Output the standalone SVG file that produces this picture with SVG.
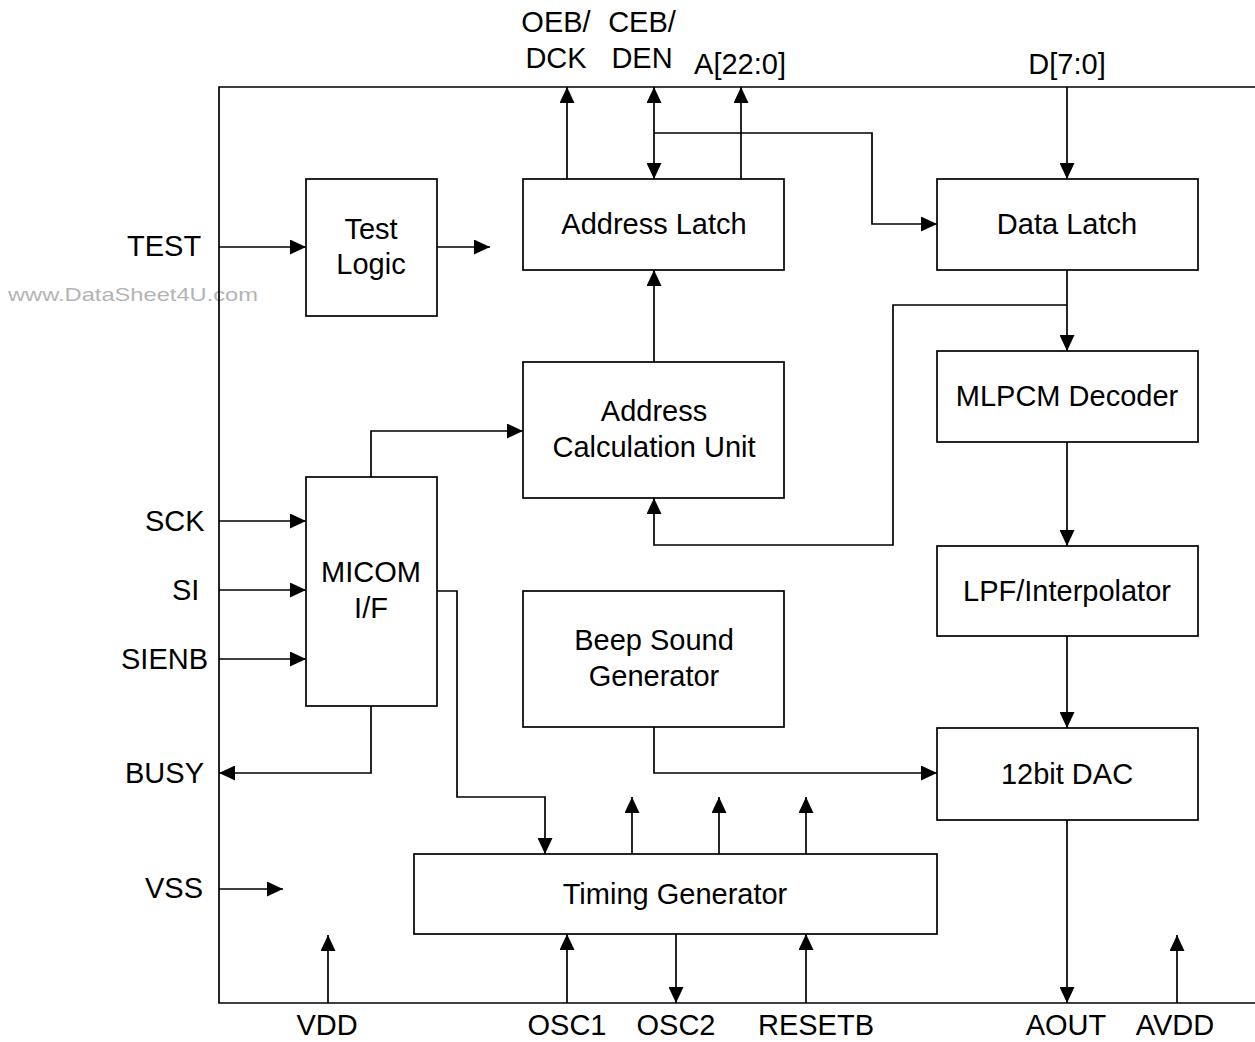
<svg xmlns="http://www.w3.org/2000/svg" width="1255" height="1042" viewBox="0 0 1255 1042">
<defs>
<marker id="ah" markerUnits="userSpaceOnUse" markerWidth="16" markerHeight="15" refX="16" refY="7.5" orient="auto-start-reverse">
<path d="M0,0 L16,7.5 L0,15 z" fill="#000"/>
</marker>
<style>
.box{fill:#fff;stroke:#000;stroke-width:1.7}
.ln{fill:none;stroke:#000;stroke-width:1.7}
.ar{fill:none;stroke:#000;stroke-width:1.7;marker-end:url(#ah)}
text{font-family:"Liberation Sans",Arial,sans-serif;font-size:29px;fill:#000}
.c{text-anchor:middle}
.wm{font-family:"Liberation Sans",Arial,sans-serif;font-size:19px;fill:#b4b4b4}
</style>
</defs>
<rect width="1255" height="1042" fill="#fff"/>
<text class="wm" x="8" y="301" textLength="250" lengthAdjust="spacingAndGlyphs">www.DataSheet4U.com</text>
<g id="frame">
<path class="ln" d="M1255,87 H219 V1003 H1255"/>
</g>
<g id="connectors">
<path class="ar" d="M219,247 H306"/>
<path class="ar" d="M437,247 H490"/>
<path class="ar" d="M567,179 V87"/>
<path class="ar" d="M654,87 V179" style="marker-start:url(#ah)"/>
<path class="ar" d="M741,179 V87"/>
<path class="ar" d="M654,133 H872 V224 H937"/>
<path class="ar" d="M1067,87 V179"/>
<path class="ar" d="M1067,270 V351"/>
<path class="ar" d="M1067,305 H893 V545 H654 V498"/>
<path class="ar" d="M654,362 V270"/>
<path class="ar" d="M371,477 V431 H523"/>
<path class="ar" d="M219,521 H306"/>
<path class="ar" d="M219,590 H306"/>
<path class="ar" d="M219,659 H306"/>
<path class="ar" d="M371,706 V773 H219"/>
<path class="ar" d="M437,591 H457 V797 H545 V854"/>
<path class="ar" d="M632,854 V797"/>
<path class="ar" d="M719,854 V797"/>
<path class="ar" d="M806,854 V797"/>
<path class="ar" d="M1067,442 V546"/>
<path class="ar" d="M1067,636 V728"/>
<path class="ar" d="M654,727 V773 H937"/>
<path class="ar" d="M1067,820 V1003"/>
<path class="ar" d="M219,889 H283"/>
<path class="ar" d="M328,1003 V935"/>
<path class="ar" d="M567,1003 V934"/>
<path class="ar" d="M676,934 V1003"/>
<path class="ar" d="M806,1003 V934"/>
<path class="ar" d="M1177,1003 V935"/>
</g>
<g id="test-logic">
<rect class="box" x="306" y="179" width="131" height="137"/>
<text class="c" x="371" y="239">Test</text>
<text class="c" x="371" y="274">Logic</text>
</g>
<g id="address-latch">
<rect class="box" x="523" y="179" width="261" height="91"/>
<text class="c" x="654" y="234">Address Latch</text>
</g>
<g id="data-latch">
<rect class="box" x="937" y="179" width="261" height="91"/>
<text class="c" x="1067" y="234">Data Latch</text>
</g>
<g id="address-calc">
<rect class="box" x="523" y="362" width="261" height="136"/>
<text class="c" x="654" y="421">Address</text>
<text class="c" x="654" y="457">Calculation Unit</text>
</g>
<g id="mlpcm">
<rect class="box" x="937" y="351" width="261" height="91"/>
<text class="c" x="1067" y="406">MLPCM Decoder</text>
</g>
<g id="micom">
<rect class="box" x="306" y="477" width="131" height="229"/>
<text class="c" x="371" y="582">MICOM</text>
<text class="c" x="371" y="618">I/F</text>
</g>
<g id="beep">
<rect class="box" x="523" y="591" width="261" height="136"/>
<text class="c" x="654" y="650">Beep Sound</text>
<text class="c" x="654" y="686">Generator</text>
</g>
<g id="lpf">
<rect class="box" x="937" y="546" width="261" height="90"/>
<text class="c" x="1067" y="601">LPF/Interpolator</text>
</g>
<g id="dac">
<rect class="box" x="937" y="728" width="261" height="92"/>
<text class="c" x="1067" y="784">12bit DAC</text>
</g>
<g id="timing">
<rect class="box" x="414" y="854" width="523" height="80"/>
<text class="c" x="675" y="904">Timing Generator</text>
</g>
<g id="pins">
<text class="c" x="556" y="32">OEB/</text>
<text class="c" x="556" y="68">DCK</text>
<text class="c" x="642" y="32">CEB/</text>
<text class="c" x="642" y="68">DEN</text>
<text class="c" x="740" y="74">A[22:0]</text>
<text class="c" x="1067" y="74">D[7:0]</text>
<text x="127" y="256">TEST</text>
<text x="145" y="531">SCK</text>
<text x="172" y="600">SI</text>
<text x="121" y="669">SIENB</text>
<text x="125" y="783">BUSY</text>
<text x="145" y="898">VSS</text>
<text class="c" x="327" y="1035">VDD</text>
<text class="c" x="567" y="1035">OSC1</text>
<text class="c" x="676" y="1035">OSC2</text>
<text class="c" x="816" y="1035">RESETB</text>
<text class="c" x="1066" y="1035">AOUT</text>
<text class="c" x="1175" y="1035">AVDD</text>
</g>
</svg>
